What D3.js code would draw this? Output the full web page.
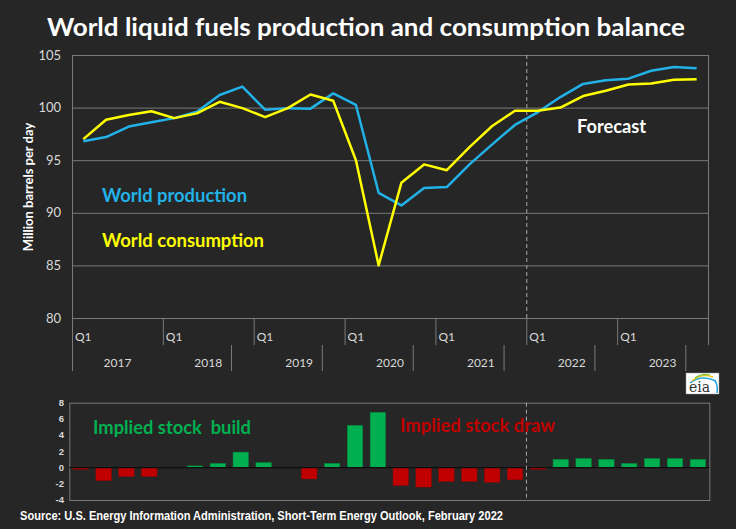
<!DOCTYPE html>
<html>
<head>
<meta charset="utf-8">
<script src="https://cdn.jsdelivr.net/npm/d3@7"></script>
<style>
  html, body { margin: 0; padding: 0; background: #262626; }
  svg { display: block; }
</style>
</head>
<body>
<svg id="chart" width="736" height="529"></svg>
<script>
// ---------- DATA ----------
const years = ["2017", "2018", "2019", "2020", "2021", "2022", "2023"];
const quarterNames = ["Q1", "Q2", "Q3", "Q4"];
const quarters = years.flatMap(yy => quarterNames.map(q => yy + q));

const production = [
  96.8, 97.2, 98.2, 98.6,
  99.0, 99.6, 101.2, 102.0,
  99.8, 99.95, 99.9, 101.35,
  100.25, 91.9, 90.7, 92.35,
  92.45, 94.6, 96.5, 98.35,
  99.55, 101.0, 102.25, 102.6,
  102.75, 103.5, 103.85, 103.75
];
const consumption = [
  97.0, 98.85, 99.3, 99.65,
  99.0, 99.45, 100.55, 99.95,
  99.1, 99.95, 101.25, 100.65,
  95.0, 85.0, 92.85, 94.6,
  94.05, 96.25, 98.25, 99.7,
  99.7, 100.0, 101.1, 101.6,
  102.2, 102.3, 102.65, 102.7
];
const stockChange = [
  -0.2, -1.6, -1.1, -1.1,
  0.0, 0.2, 0.5, 1.9,
  0.6, 0.0, -1.4, 0.5,
  5.2, 6.8, -2.2, -2.4,
  -1.7, -1.7, -1.8, -1.5,
  -0.2, 1.0, 1.1, 1.0,
  0.5, 1.1, 1.1, 1.0
];
const topTicks = [80, 85, 90, 95, 100, 105];
const bottomTicks = [-4, -2, 0, 2, 4, 6, 8];
const forecastStart = "2022Q1";

const titleText = "World liquid fuels production and consumption balance";
const yTitle = "Million barrels per day";
const sourceText = "Source: U.S. Energy Information Administration, Short-Term Energy Outlook, February 2022";

// ---------- STYLE ----------
const BG = "#262626";
const GRID = "#7a7a7a";
const LABEL = "#d9d9d9";
const BLUE = "#22b2e8";
const YELLOW = "#ffff00";
const GREEN = "#00b050";
const RED = "#c00000";
const CAL = "Lato, 'Open Sans', sans-serif";
const ARIAL = "'Liberation Sans', Arial, sans-serif";

const svg = d3.select("#chart");
svg.append("rect").attr("width", 736).attr("height", 529).attr("fill", BG);

// Title
svg.append("text")
  .attr("x", 47).attr("y", 36)
  .attr("textLength", 638).attr("lengthAdjust", "spacingAndGlyphs")
  .attr("font-family", CAL).attr("font-weight", "bold").attr("font-size", 25)
  .attr("fill", "#ffffff").text(titleText);

// ---------- TOP CHART ----------
const P = { l: 72, r: 708, t: 55, b: 318 };
const x = d3.scaleBand().domain(quarters).range([P.l, P.r]);
const y = d3.scaleLinear().domain([80, 105]).range([P.b, P.t]);

const g = svg.append("g");

// gridlines
g.selectAll("line.grid").data(topTicks).join("line")
  .attr("x1", P.l).attr("x2", P.r)
  .attr("y1", d => y(d) + 0.5).attr("y2", d => y(d) + 0.5)
  .attr("stroke", GRID).attr("stroke-width", 1);
// frame sides
g.append("line").attr("x1", P.l + 0.5).attr("x2", P.l + 0.5)
  .attr("y1", P.t).attr("y2", 371).attr("stroke", GRID);
g.append("line").attr("x1", P.r + 0.5).attr("x2", P.r + 0.5)
  .attr("y1", P.t).attr("y2", 345).attr("stroke", GRID);

// y tick labels
g.selectAll("text.ytick").data(topTicks).join("text")
  .attr("x", 61).attr("y", d => y(d)).attr("dy", "0.35em")
  .attr("text-anchor", "end")
  .attr("font-family", CAL).attr("font-size", 13).attr("fill", LABEL)
  .text(d => d);

// y title
g.append("text")
  .attr("transform", "translate(33,187) rotate(-90)")
  .attr("text-anchor", "middle")
  .attr("font-family", CAL).attr("font-weight", "bold").attr("font-size", 13)
  .attr("fill", "#ffffff").text(yTitle);

// x axis: Q1 row and year row
years.forEach((yr, i) => {
  const x0 = x(yr + "Q1");
  g.append("text").attr("x", x0 + 3).attr("y", 340.5)
    .attr("font-family", CAL).attr("font-size", 12).attr("fill", LABEL).text("Q1");
  if (i > 0) {
    g.append("line").attr("x1", x0 + 0.5).attr("x2", x0 + 0.5)
      .attr("y1", P.b).attr("y2", 345).attr("stroke", GRID);
  }
  const xc = x(yr + "Q1") + x.bandwidth() * 2;
  g.append("text").attr("x", xc).attr("y", 367).attr("text-anchor", "middle")
    .attr("font-family", CAL).attr("font-size", 12).attr("fill", LABEL).text(yr);
  if (i > 0) {
    const xs = x(yr + "Q4");
    g.append("line").attr("x1", xs + 0.5).attr("x2", xs + 0.5)
      .attr("y1", 345).attr("y2", 371).attr("stroke", GRID);
  }
});

// forecast dashed line
const xf = x(forecastStart);
g.append("line").attr("x1", xf + 0.5).attr("x2", xf + 0.5)
  .attr("y1", P.t).attr("y2", P.b)
  .attr("stroke", "#a6a6a6").attr("stroke-dasharray", "4,3");

// lines
const lineGen = vals => d3.line()
  .x((d, i) => x(quarters[i]) + x.bandwidth() / 2)
  .y(d => y(d))(vals);
g.append("path").attr("d", lineGen(production))
  .attr("fill", "none").attr("stroke", BLUE).attr("stroke-width", 2.5)
  .attr("stroke-linejoin", "round");
g.append("path").attr("d", lineGen(consumption))
  .attr("fill", "none").attr("stroke", YELLOW).attr("stroke-width", 2.5)
  .attr("stroke-linejoin", "round");

// labels
g.append("text").attr("x", 102).attr("y", 202)
  .attr("font-family", CAL).attr("font-weight", "bold").attr("font-size", 19)
  .attr("textLength", 145).attr("lengthAdjust", "spacingAndGlyphs")
  .attr("fill", BLUE).text("World production");
g.append("text").attr("x", 102).attr("y", 247)
  .attr("font-family", CAL).attr("font-weight", "bold").attr("font-size", 19)
  .attr("textLength", 162).attr("lengthAdjust", "spacingAndGlyphs")
  .attr("fill", YELLOW).text("World consumption");
g.append("text").attr("x", 577).attr("y", 133)
  .attr("font-family", CAL).attr("font-weight", "bold").attr("font-size", 18)
  .attr("textLength", 69).attr("lengthAdjust", "spacingAndGlyphs")
  .attr("fill", "#ffffff").text("Forecast");

// eia logo
const logo = svg.append("g").attr("transform", "translate(686,373)");
logo.append("rect").attr("width", 33).attr("height", 21)
  .attr("fill", "#ffffff").attr("stroke", "#999").attr("stroke-width", 0.5);
logo.append("path").attr("d", "M4,10 Q15,1 30,8").attr("fill", "none")
  .attr("stroke", "#29a8e0").attr("stroke-width", 1.6);
logo.append("path").attr("d", "M6,8 Q15,0 27,4").attr("fill", "none")
  .attr("stroke", "#f2c500").attr("stroke-width", 1.4);
logo.append("path").attr("d", "M9,5 Q16,0 24,2").attr("fill", "none")
  .attr("stroke", "#7cc242").attr("stroke-width", 1.2);
logo.append("path").attr("d", "M29,8 Q32,12 31,20").attr("fill", "none")
  .attr("stroke", "#29a8e0").attr("stroke-width", 1.6);
logo.append("text").attr("x", 3).attr("y", 19)
  .attr("font-family", "'DejaVu Serif', 'Liberation Serif', serif")
  .attr("font-size", 14).attr("fill", "#333").text("eia");

// ---------- BOTTOM CHART ----------
const B = { l: 69.3, r: 709.3, t: 402.7, b: 500 };
const x2 = d3.scaleBand().domain(quarters).range([B.l, B.r]).paddingInner(0.33).paddingOuter(0.165);
const y2 = d3.scaleLinear().domain([-4, 8]).range([B.b, B.t]);
const bg = svg.append("g");

bg.append("rect").attr("x", B.l + 0.5).attr("y", B.t + 0.5)
  .attr("width", B.r - B.l).attr("height", B.b - B.t)
  .attr("fill", "none").attr("stroke", GRID);

bg.selectAll("text.ytick").data(bottomTicks).join("text")
  .attr("x", 64).attr("y", d => y2(d)).attr("dy", "0.35em")
  .attr("text-anchor", "end")
  .attr("font-family", ARIAL).attr("font-weight", "bold").attr("font-size", 9.5)
  .attr("fill", LABEL).text(d => d);

bg.selectAll("rect.bar").data(stockChange).join("rect")
  .attr("x", (d, i) => x2(quarters[i]))
  .attr("width", x2.bandwidth())
  .attr("y", d => y2(Math.max(0, d)))
  .attr("height", d => Math.abs(y2(d) - y2(0)))
  .attr("fill", d => d >= 0 ? GREEN : RED)
  .attr("stroke", d => d >= 0 ? "#00903f" : "#a00000")
  .attr("stroke-width", 0.5);

bg.append("line").attr("x1", B.l).attr("x2", B.r)
  .attr("y1", y2(0)).attr("y2", y2(0))
  .attr("stroke", "#0d0d0d").attr("stroke-width", 1.2);

const xf2 = B.l + (B.r - B.l) * quarters.indexOf(forecastStart) / quarters.length;
bg.append("line").attr("x1", xf2).attr("x2", xf2)
  .attr("y1", B.t).attr("y2", B.b)
  .attr("stroke", "#a6a6a6").attr("stroke-dasharray", "4,3");

bg.append("text").attr("x", 93).attr("y", 434)
  .attr("font-family", CAL).attr("font-weight", "bold").attr("font-size", 18)
  .attr("textLength", 158).attr("lengthAdjust", "spacingAndGlyphs")
  .attr("fill", GREEN).style("white-space", "pre")
  .text("Implied stock  build");
bg.append("text").attr("x", 400).attr("y", 432)
  .attr("font-family", CAL).attr("font-weight", "bold").attr("font-size", 18)
  .attr("textLength", 155).attr("lengthAdjust", "spacingAndGlyphs")
  .attr("fill", RED).text("Implied stock draw");

// source
svg.append("text").attr("x", 20).attr("y", 520)
  .attr("font-family", ARIAL).attr("font-weight", "bold").attr("font-size", 12)
  .attr("textLength", 483).attr("lengthAdjust", "spacingAndGlyphs")
  .attr("fill", "#ffffff").text(sourceText);
</script>
</body>
</html>
